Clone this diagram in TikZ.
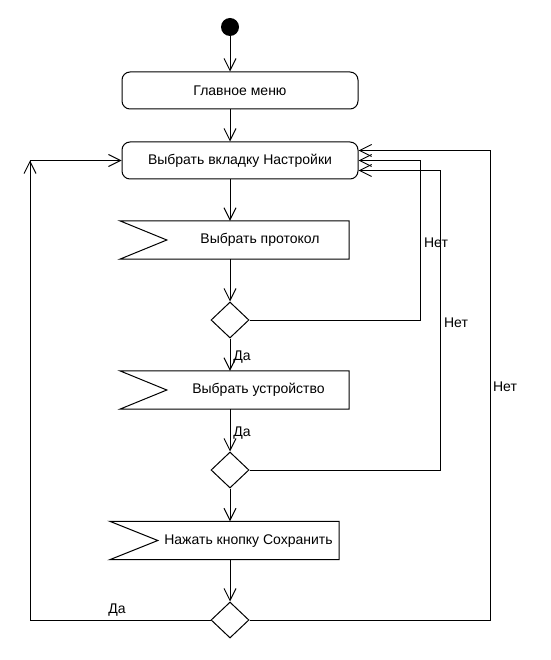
\documentclass[tikz,border=0pt]{standalone}
\usepackage{fontspec}
\setmainfont{Liberation Sans}
\usetikzlibrary{arrows.meta,shapes.geometric,calc}
\begin{document}
\begin{tikzpicture}[x=1pt,y=-1pt,
  ln/.style={line width=1pt},
  arr/.style={line width=1pt,-{Straight Barb[length=12pt,width=12pt,line width=1pt]}},
  txt/.style={font=\fontsize{14}{16}\selectfont},
  act/.style={draw,line width=1pt,rounded corners=8pt,minimum width=236pt,minimum height=37pt,inner sep=0pt,txt},
  sig/.style={minimum width=229pt,minimum height=38pt,inner sep=0pt},
  dec/.style={draw,line width=1pt,diamond,minimum width=38pt,minimum height=36pt,inner sep=0pt},
  lab/.style={txt,inner sep=0pt}]
\useasboundingbox (0,0) rectangle (550,660);
\node[circle,fill=black,minimum size=18pt,inner sep=0pt] (s) at (230,27) {};
\node[act] (m1) at (240,90.5) {Главное меню};
\node[act] (m2) at (240,160.5) {Выбрать вкладку Настройки};
\node[sig] (p1) at (234.5,240) {};
\node[sig] (p2) at (234.5,390) {};
\node[sig] (p3) at (224.5,540.5) {};
\node[lab] (t1) at (260,240) {Выбрать протокол};
\node[lab] (t2) at (258.5,390) {Выбрать устройство};
\node[lab] (t3) at (248.5,541) {Нажать кнопку Сохранить};
\foreach \p/\n in {p1/47,p2/47,p3/48}{
  \draw[ln] (\p.north west) -- (\p.north east) -- (\p.south east) -- (\p.south west) -- ($(\p.west)+(\n,0)$) -- cycle;
}
\node[dec] (d1) at (230,320) {};
\node[dec] (d2) at (230,470) {};
\node[dec] (d3) at (230,620) {};
% main column
\draw[arr] (s.south) -- (s |- m1.north);
\draw[arr] (s |- m1.south) -- (s |- m2.north);
\draw[arr] (s |- m2.south) -- (s |- p1.north);
\draw[arr] (s |- p1.south) -- (d1.north);
\draw[arr] (d1.south) -- (s |- p2.north);
\draw[arr] (s |- p2.south) -- (d2.north);
\draw[arr] (d2.south) -- (s |- p3.north);
\draw[arr] (s |- p3.south) -- (d3.north);
% loops
\coordinate (c1) at (420,320);
\coordinate (c2) at (440,470);
\coordinate (c3) at (490,620);
\coordinate (c4) at (30,620);
\coordinate (cl) at (30,160.5);
\draw[arr] (d1.east) -- (c1) |- (m2.east);
\draw[arr] (d2.east) -- (c2) |- ($(m2.east)+(0,10)$);
\draw[arr] (d3.east) -- (c3) |- ($(m2.east)+(0,-10)$);
\draw[arr] (d3.west) -- (c4) -- (cl) -- (m2.west);
\draw[arr] ($(cl)+(0,14)$) -- (cl);
% labels
\node[lab] (n1) at (436,243) {Нет};
\node[lab] (n2) at (456,323) {Нет};
\node[lab] (n3) at (505,387) {Нет};
\node[lab] (y1) at (242,357) {Да};
\node[lab] (y2) at (242,433) {Да};
\node[lab] (y3) at (117,610) {Да};
\end{tikzpicture}
\end{document}
